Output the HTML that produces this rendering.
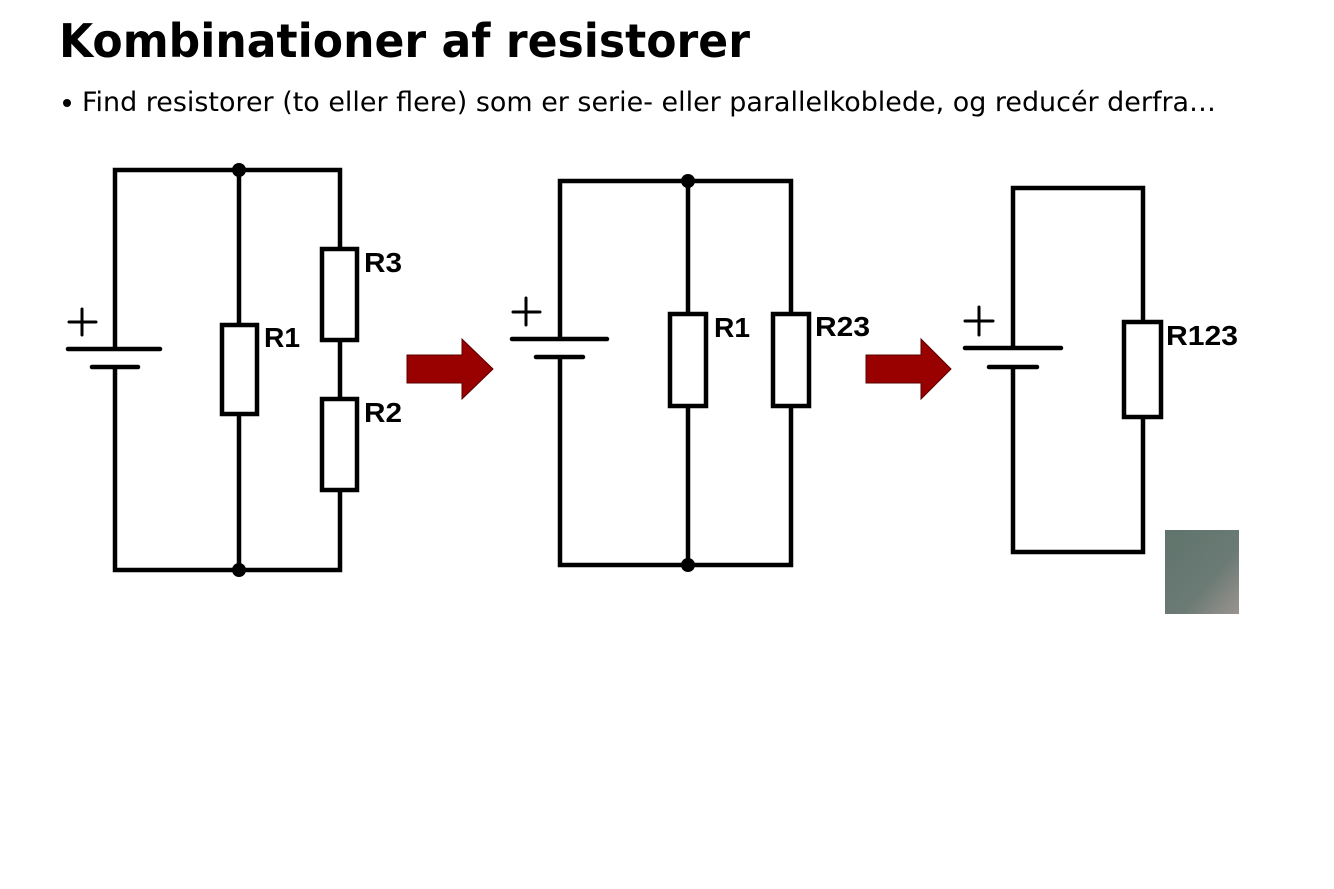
<!DOCTYPE html>
<html><head><meta charset="utf-8"><style>
html,body{margin:0;padding:0;background:#fff;width:1334px;height:889px;overflow:hidden}
</style></head><body>
<svg width="1334" height="889" viewBox="0 0 1334 889" xmlns="http://www.w3.org/2000/svg">
<defs>
<linearGradient id="g" x1="0" y1="0" x2="1" y2="1">
<stop offset="0" stop-color="#5f746c"/><stop offset="0.6" stop-color="#6b7a74"/><stop offset="1" stop-color="#9a9490"/>
</linearGradient>
</defs>
<text x="59" y="57" font-family="'DejaVu Sans','Liberation Sans',sans-serif" font-weight="bold" font-size="46" textLength="691" lengthAdjust="spacingAndGlyphs" fill="#000">Kombinationer af resistorer</text>
<circle cx="67" cy="103" r="4" fill="#000"/>
<text x="82" y="111" font-family="'DejaVu Sans','Liberation Sans',sans-serif" font-size="27" textLength="1134" lengthAdjust="spacingAndGlyphs" fill="#000">Find resistorer (to eller flere) som er serie- eller parallelkoblede, og reducér derfra…</text>

<g fill="none" stroke="#000" stroke-width="4.5" stroke-linecap="round">
<path d="M115 349 V170 H340 V249 M340 340 V399 M340 490 V570 H115 V367" stroke-linecap="butt"/>
<path d="M239 170 V325 M239 414 V570" stroke-linecap="butt"/>
<line x1="68" y1="349" x2="160" y2="349"/>
<line x1="92" y1="367" x2="138" y2="367"/>
<path d="M69 322 H96 M82 309 V335" stroke-width="3"/>
<rect x="222" y="325" width="35" height="89" fill="#fff"/>
<rect x="322" y="249" width="35" height="91" fill="#fff"/>
<rect x="322" y="399" width="35" height="91" fill="#fff"/>

<path d="M560 339 V181 H791 V314 M791 406 V565 H560 V357" stroke-linecap="butt"/>
<path d="M688 181 V314 M688 406 V565" stroke-linecap="butt"/>
<line x1="512" y1="339" x2="607" y2="339"/>
<line x1="536" y1="357" x2="583" y2="357"/>
<path d="M513 312 H540 M526 298 V325" stroke-width="3"/>
<rect x="670" y="314" width="36" height="92" fill="#fff"/>
<rect x="773" y="314" width="36" height="92" fill="#fff"/>

<path d="M1013 348 V188 H1143 V322 M1143 417 V552 H1013 V367" stroke-linecap="butt"/>
<line x1="965" y1="348" x2="1061" y2="348"/>
<line x1="989" y1="367" x2="1037" y2="367"/>
<path d="M965 321 H993 M979 307 V335" stroke-width="3"/>
<rect x="1124" y="322" width="37" height="95" fill="#fff"/>
</g>
<g fill="#000">
<circle cx="239" cy="170" r="7"/><circle cx="239" cy="570" r="7"/>
<circle cx="688" cy="181" r="7"/><circle cx="688" cy="565" r="7"/>
</g>
<g font-family="'Liberation Sans',Arial,sans-serif" font-weight="bold" font-size="28" fill="#000">
<text x="264" y="347" textLength="36" lengthAdjust="spacingAndGlyphs">R1</text>
<text x="364" y="272" textLength="38" lengthAdjust="spacingAndGlyphs">R3</text>
<text x="364" y="422" textLength="38" lengthAdjust="spacingAndGlyphs">R2</text>
<text x="714" y="337" textLength="36" lengthAdjust="spacingAndGlyphs">R1</text>
<text x="815" y="336" textLength="55" lengthAdjust="spacingAndGlyphs">R23</text>
<text x="1166" y="345" textLength="72" lengthAdjust="spacingAndGlyphs">R123</text>
</g>
<g fill="#990000" stroke="#5a0000" stroke-width="1">
<path d="M407 355 H462 V339 L493 369 L462 399 V383 H407 Z"/>
<path d="M866 355 H921 V339 L951 369 L921 399 V383 H866 Z"/>
</g>
<rect x="1165" y="530" width="74" height="84" fill="url(#g)"/>
</svg>
</body></html>
